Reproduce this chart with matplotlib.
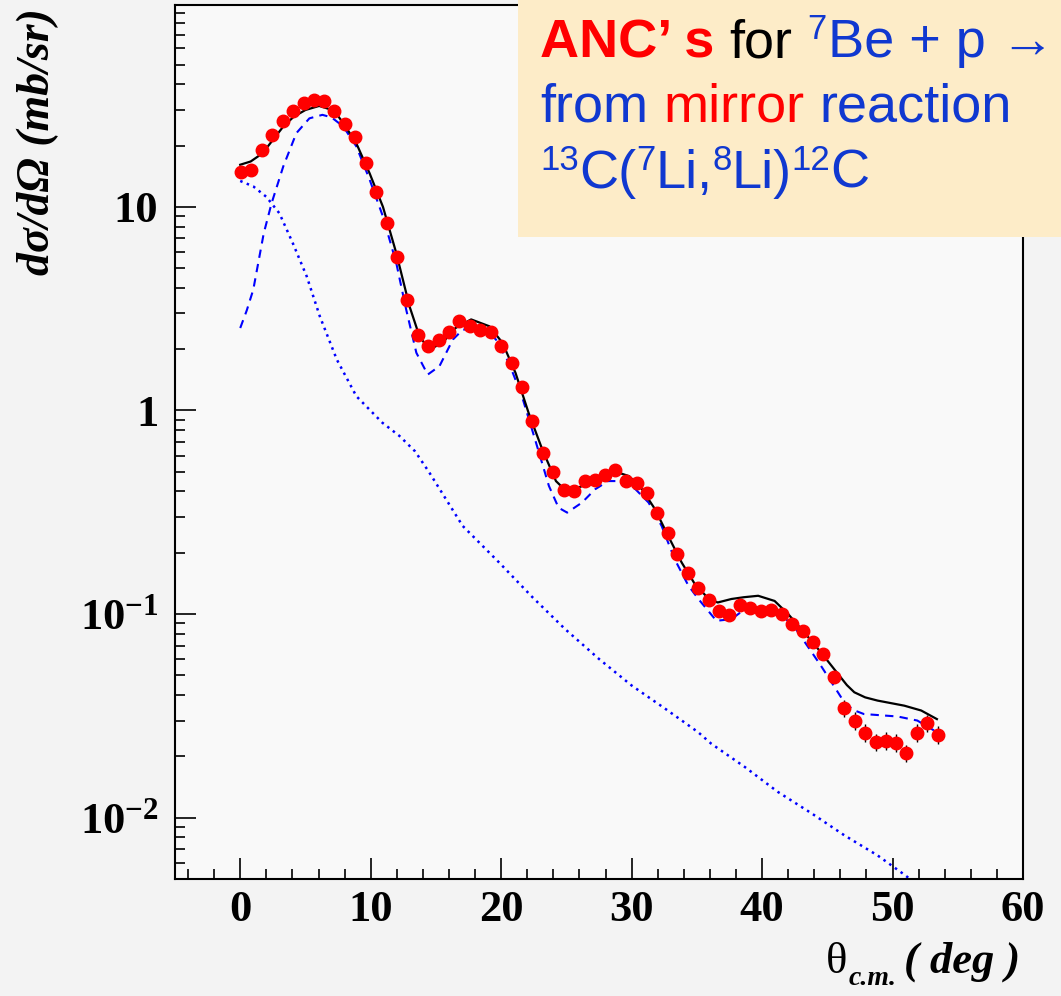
import matplotlib
matplotlib.use("Agg")
import matplotlib.pyplot as plt
from matplotlib.patches import Rectangle

# measured angular distribution (points)
theta_exp = [0.05, 0.84, 1.68, 2.44, 3.26, 4.07, 4.86, 5.63, 6.41, 7.2, 8.0, 8.8,
             9.65, 10.4, 11.25, 12.04, 12.8, 13.6, 14.4, 15.2, 16.0, 16.8, 17.6,
             18.4, 19.2, 20.0, 20.8, 21.6, 22.37, 23.2, 24.0, 24.8, 25.6, 26.4,
             27.2, 27.96, 28.75, 29.57, 30.4, 31.16, 31.98, 32.77, 33.5, 34.35,
             35.1, 35.95, 36.7, 37.5, 38.3, 39.1, 39.9, 40.7, 41.5, 42.3, 43.1,
             43.9, 44.7, 45.5, 46.3, 47.1, 47.9, 48.7, 49.5, 50.3, 51.07, 51.86,
             52.67, 53.5]
sigma_exp = [14.9, 15.1, 19.0, 22.5, 26.4, 29.7, 32.2, 33.5, 33.1, 29.7, 25.5, 22.0,
             16.4, 11.8, 8.32, 5.67, 3.47, 2.36, 2.07, 2.21, 2.43, 2.74, 2.59,
             2.49, 2.43, 2.07, 1.71, 1.30, 0.886, 0.615, 0.499, 0.407, 0.404, 0.450,
             0.457, 0.480, 0.508, 0.450, 0.442, 0.394, 0.315, 0.251, 0.197, 0.160,
             0.134, 0.117, 0.104, 0.0988, 0.111, 0.1066, 0.103, 0.105, 0.100,
             0.0893, 0.0828, 0.0731, 0.0637, 0.0489, 0.0346, 0.030, 0.0261, 0.0235,
             0.0239, 0.0233, 0.0208, 0.0261, 0.0292, 0.0256]
err_frac = [0.04] * 58 + [0.1] * 10

# total calculation (solid)
theta_tot = [0.0, 0.8, 1.7, 2.5, 3.3, 4.1, 5.0, 6.05, 7.2, 8.0, 8.9, 9.92, 10.94,
             11.96, 12.98, 13.74, 14.5, 15.5, 16.5, 17.7, 19.1, 20.1, 21.1, 22.1,
             23.15, 24.2, 25.06, 26.2, 27.2, 28.45, 29.8, 30.8, 31.8, 32.8, 33.84,
             34.86, 35.9, 36.6, 37.65, 38.6, 39.7, 40.96, 42.0, 43.25, 44.5, 45.8,
             46.5, 47.07, 47.9, 48.85, 50.9, 52.2, 53.4]
sigma_tot = [16.1, 16.7, 18.3, 21.3, 24.8, 27.7, 29.9, 31.3, 29.7, 25.2, 20.5, 14.6,
             10.0, 5.93, 3.24, 2.31, 1.99, 2.15, 2.54, 2.80, 2.59, 2.15, 1.53, 0.975,
             0.644, 0.45, 0.398, 0.425, 0.468, 0.508, 0.476, 0.41, 0.327, 0.242,
             0.179, 0.140, 0.119, 0.114, 0.1186, 0.121, 0.123, 0.116, 0.100, 0.081,
             0.065, 0.051, 0.0448, 0.0413, 0.0390, 0.0376, 0.0355, 0.0336, 0.0305]

# peripheral part (dashed)
theta_dash = [0.0, 0.5, 1.0, 1.8, 2.4, 3.3, 4.3, 5.3, 6.3, 7.0, 7.9, 8.9, 9.92,
              10.94, 11.96, 12.72, 13.5, 14.37, 15.27, 16.3, 17.05, 18.07, 19.08,
              19.6, 20.6, 21.6, 22.6, 23.66, 24.4, 25.06, 26.2, 27.2, 28.2, 29.26,
              30.3, 31.3, 32.3, 33.3, 34.35, 35.1, 36.5, 37.65, 38.7, 40.7, 42.0,
              42.5, 44.5, 46.3, 47.0, 47.8, 50.4, 51.9, 53.4]
sigma_dash = [2.54, 3.1, 3.92, 7.4, 10.4, 15.8, 23.0, 27.2, 28.3, 27.5, 24.8, 19.8,
              13.6, 8.96, 5.3, 3.13, 1.92, 1.50, 1.65, 2.23, 2.49, 2.54, 2.40,
              2.23, 1.71, 1.17, 0.72, 0.426, 0.333, 0.315, 0.353, 0.41, 0.45, 0.45,
              0.41, 0.353, 0.271, 0.186, 0.138, 0.119, 0.0927, 0.0944, 0.106, 0.104,
              0.0927, 0.0861, 0.0559, 0.0369, 0.0338, 0.0323, 0.0314, 0.030, 0.0263]

# interior part (dotted)
theta_dot = [0.0, 1.0, 2.0, 3.0, 4.0, 5.1, 6.1, 7.4, 8.9, 10.9, 12.2, 13.4, 14.5,
             17.05, 19.85, 22.4, 24.9, 27.5, 30.0, 32.6, 35.1, 36.1, 38.7, 41.2,
             43.8, 46.3, 48.85, 51.0, 52.0]
sigma_dot = [13.4, 12.6, 11.2, 9.3, 6.7, 4.55, 2.9, 1.78, 1.175, 0.87, 0.75, 0.63,
             0.495, 0.271, 0.179, 0.121, 0.0844, 0.0602, 0.0446, 0.0342, 0.0263,
             0.0231, 0.0177, 0.0134, 0.0105, 0.0082, 0.00653, 0.0052, 0.0046]

xticks = [0, 10, 20, 30, 40, 50, 60]
yticks = [0.01, 0.1, 1, 10]
ytick_labels = [r"$\mathbf{10^{-2}}$", r"$\mathbf{10^{-1}}$", "1", "10"]

RED = "#ff0000"
BLUE = "#1038d0"

plt.rcParams["mathtext.fontset"] = "custom"
plt.rcParams["mathtext.rm"] = "Liberation Serif"
plt.rcParams["mathtext.bf"] = "Liberation Serif:bold"
plt.rcParams["mathtext.it"] = "Liberation Serif:italic"

W, H = 1061, 996
fig = plt.figure(figsize=(W / 100, H / 100), dpi=100, facecolor="#f3f3f3")
ax = fig.add_axes([175 / W, 1 - 879 / H, (1023 - 175) / W, (879 - 5) / H])
ax.set_facecolor("#f9f9f9")

ax.plot(theta_dot, sigma_dot, color="blue", lw=1.8, linestyle=(0, (1, 1.8)))
ax.plot(theta_dash, sigma_dash, color="blue", lw=1.5, dashes=(4, 3))
ax.plot(theta_tot, sigma_tot, color="black", lw=1.6)
yerr = [s * f for s, f in zip(sigma_exp, err_frac)]
ax.errorbar(theta_exp, sigma_exp, yerr=yerr, fmt="o", color=RED, ms=9,
            ecolor="black", elinewidth=1, capsize=0, zorder=5)

ax.set_yscale("log")
ax.set_xlim(-5, 60)
ax.set_ylim(0.005, 98)
ax.set_xticks(xticks)
ax.set_xticks(range(-4, 60, 2), minor=True)
ax.set_yticks(yticks)
ax.set_yticklabels(ytick_labels)
ax.tick_params(which="both", direction="in", top=False, right=False, width=1.2)
ax.tick_params(which="major", length=15)
ax.tick_params(which="minor", length=7.5)
ax.tick_params(axis="x", pad=8)
ax.tick_params(axis="y", pad=12)
for lab in ax.get_xticklabels() + ax.get_yticklabels():
    lab.set_fontfamily("Liberation Serif")
    lab.set_fontweight("bold")
    lab.set_fontsize(32)
for sp in ax.spines.values():
    sp.set_linewidth(1.5)

fig.text(38 / W, 1 - 8 / H, "dσ/dΩ (mb/sr)", rotation=90, ha="center", va="top",
         fontsize=33, fontweight="bold", fontstyle="italic",
         family=["Liberation Serif", "DejaVu Serif"])

renderer = fig.canvas.get_renderer()


def write_pieces(pieces, x0, base, family, zorder=11):
    # pieces: (text, color, size, weight, style, rise_px, gap_px_before)
    x = x0
    for s, color, size, weight, style, rise, gap in pieces:
        x += gap
        t = fig.text(x / W, (H - base + rise) / H, s, color=color, fontsize=size,
                     fontweight=weight, fontstyle=style, family=family,
                     ha="left", va="baseline", zorder=zorder)
        x = t.get_window_extent(renderer).x1


# x axis title
serif = ["Liberation Serif", "DejaVu Serif"]
write_pieces([("θ", "black", 32, "normal", "normal", 0, 0),
              ("c.m.", "black", 20, "bold", "italic", -12, 1),
              ("( deg )", "black", 32, "bold", "italic", 0, 8)],
             826, 973, serif)

# title box
fig.add_artist(Rectangle((518 / W, 1 - 237 / H), 1 - 518 / W, 237 / H,
                         transform=fig.transFigure, facecolor="#fdecc8",
                         edgecolor="none", zorder=10))
sans = ["Liberation Sans", "DejaVu Sans"]
sp = 15
big, sup, up = 39, 25, 18
write_pieces([("ANC’ s", RED, big, "bold", "normal", 0, 0),
              ("for", "black", big, "normal", "normal", 0, sp),
              ("7", BLUE, sup, "normal", "normal", up, sp),
              ("Be + p →", BLUE, big, "normal", "normal", 0, 1)],
             540, 57, sans)
write_pieces([("from", BLUE, big, "normal", "normal", 0, 0),
              ("mirror", RED, big, "normal", "normal", 0, sp),
              ("reaction", BLUE, big, "normal", "normal", 0, sp)],
             540, 122, sans)
write_pieces([("13", BLUE, sup, "normal", "normal", up, 0),
              ("C(", BLUE, big, "normal", "normal", 0, 0),
              ("7", BLUE, sup, "normal", "normal", up, 0),
              ("Li,", BLUE, big, "normal", "normal", 0, 0),
              ("8", BLUE, sup, "normal", "normal", up, 0),
              ("Li)", BLUE, big, "normal", "normal", 0, 0),
              ("12", BLUE, sup, "normal", "normal", up, 0),
              ("C", BLUE, big, "normal", "normal", 0, 0)],
             540, 188, sans)

fig.savefig("out.png", dpi=100, facecolor=fig.get_facecolor())
